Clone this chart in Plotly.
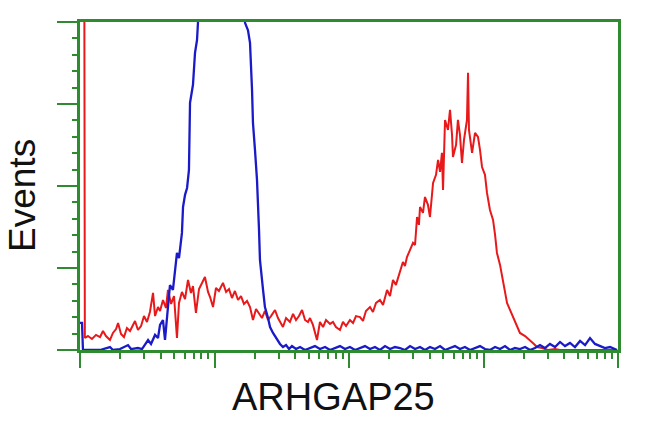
import plotly.graph_objects as go

# Fluorescence intensity positions (log10 decades) and event counts
red_decade = [0.006, 0.029, 0.036, 0.059, 0.089, 0.119, 0.149, 0.171, 0.193, 0.223, 0.245, 0.268,
              0.283, 0.305, 0.327, 0.349, 0.372, 0.394, 0.409, 0.431, 0.454, 0.476, 0.498, 0.520,
              0.543, 0.558, 0.580, 0.595, 0.617, 0.639, 0.654, 0.677, 0.699, 0.721, 0.736, 0.758,
              0.781, 0.803, 0.825, 0.840, 0.862, 0.885, 0.907, 0.929, 0.952, 0.967, 0.989, 1.011,
              1.033, 1.063, 1.086, 1.108, 1.130, 1.152, 1.175, 1.197, 1.219, 1.242, 1.264, 1.286,
              1.309, 1.331, 1.353, 1.375, 1.398, 1.420, 1.450, 1.472, 1.494, 1.509, 1.532, 1.561,
              1.584, 1.606, 1.628, 1.651, 1.673, 1.695, 1.710, 1.732, 1.762, 1.784, 1.807, 1.829,
              1.859, 1.881, 1.903, 1.933, 1.955, 1.978, 2.007, 2.030, 2.052, 2.082, 2.104, 2.126,
              2.156, 2.178, 2.201, 2.230, 2.253, 2.283, 2.305, 2.327, 2.349, 2.379, 2.401, 2.416,
              2.431, 2.454, 2.476, 2.491, 2.506, 2.520, 2.528, 2.550, 2.565, 2.587, 2.602, 2.625,
              2.647, 2.662, 2.677, 2.691, 2.699, 2.714, 2.736, 2.751, 2.766, 2.773, 2.796, 2.810,
              2.825, 2.840, 2.855, 2.877, 2.885, 2.892, 2.915, 2.937, 2.959, 2.974, 2.989, 3.011,
              3.026, 3.048, 3.071, 3.086, 3.100, 3.123, 3.145, 3.160, 3.175, 3.197, 3.219, 3.249,
              3.271, 3.309, 3.346, 3.375, 3.398, 3.435, 3.480, 3.532, 3.569, 3.643, 3.718, 3.866,
              3.993]
red_counts = [400, 400, 7.3, 8.5, 6.7, 9.2, 7.9, 11.6, 8.5, 6.1, 10.4, 12.8,
              16.5, 9.8, 7.9, 13.4, 11.6, 15.3, 17.7, 12.2, 14.6, 20.7, 17.1, 23.2,
              34.8, 20.7, 26.2, 23.8, 30.5, 25.6, 36.6, 28.1, 32.9, 7.3, 28.7, 35.4,
              31.1, 42.7, 34.8, 39.0, 22.6, 37.2, 40.9, 44.5, 35.4, 32.3, 26.2, 37.8,
              36.0, 40.9, 35.4, 37.2, 31.7, 36.0, 30.5, 32.9, 28.1, 29.9, 26.2, 18.3,
              25.0, 22.6, 19.5, 23.8, 18.3, 20.7, 24.4, 19.5, 16.5, 14.0, 19.5, 17.1,
              22.0, 18.3, 20.7, 24.4, 18.3, 17.1, 19.5, 15.3, 6.1, 17.1, 14.0, 18.3,
              15.9, 17.1, 14.0, 12.2, 17.1, 14.6, 18.3, 16.5, 20.7, 20.1, 17.7, 23.8,
              26.2, 23.2, 28.7, 30.5, 27.5, 36.6, 32.9, 42.7, 39.7, 48.8, 53.7, 51.2,
              56.7, 61.0, 65.3, 64.0, 81.1, 76.3, 87.2, 83.6, 93.3, 88.5, 81.1, 101.9,
              106.8, 115.9, 108.6, 120.2, 97.6, 140.3, 134.2, 146.4, 131.2, 117.7, 125.1, 140.3,
              131.2, 114.1, 128.1, 140.3, 169.0, 134.2, 120.2, 132.4, 129.9, 122.0, 111.6, 106.8,
              95.8, 85.4, 79.3, 70.2, 59.2, 51.9, 42.7, 36.6, 28.7, 24.4, 20.1, 15.3,
              10.4, 8.5, 6.1, 3.7, 1.8, 1.2, 0.0, 0.6, 0.0, 0.0, 0.0, 0.0,
              0.0]

blue_decade = [0.000, 0.015, 0.022, 0.149, 0.223, 0.245, 0.297, 0.357, 0.379, 0.431, 0.461, 0.483,
               0.506, 0.528, 0.558, 0.580, 0.595, 0.617, 0.632, 0.654, 0.669, 0.691, 0.706, 0.721,
               0.736, 0.758, 0.766, 0.781, 0.796, 0.810, 0.818, 0.840, 0.855, 0.870, 0.877, 0.892,
               0.929, 0.967, 1.004, 1.041, 1.078, 1.115, 1.152, 1.190, 1.219, 1.227, 1.249, 1.264,
               1.279, 1.286, 1.301, 1.316, 1.331, 1.338, 1.361, 1.375, 1.398, 1.413, 1.435, 1.465,
               1.487, 1.509, 1.532, 1.554, 1.576, 1.606, 1.636, 1.673, 1.710, 1.747, 1.784, 1.822,
               1.859, 1.896, 1.933, 1.970, 2.007, 2.045, 2.082, 2.119, 2.156, 2.193, 2.230, 2.268,
               2.305, 2.342, 2.379, 2.416, 2.454, 2.491, 2.528, 2.565, 2.602, 2.639, 2.677, 2.714,
               2.751, 2.788, 2.825, 2.862, 2.900, 2.937, 2.974, 3.011, 3.048, 3.086, 3.123, 3.160,
               3.197, 3.234, 3.271, 3.309, 3.346, 3.383, 3.420, 3.457, 3.494, 3.532, 3.569, 3.606,
               3.643, 3.680, 3.718, 3.755, 3.792, 3.829, 3.866, 3.903, 3.941, 3.978, 3.993]
blue_counts = [16.5, 16.5, 0.0, 0.0, 1.8, 0.0, 0.6, 3.0, 0.6, 1.2, 0.6, 3.0,
               6.1, 3.7, 9.2, 7.3, 15.3, 18.3, 6.1, 26.2, 39.6, 36.6, 48.8, 59.2,
               56.0, 71.4, 87.2, 94.6, 98.8, 109.8, 150.7, 161.7, 181.2, 189.0, 199.5, 230.0,
               270.0, 300.0, 310.0, 300.0, 290.0, 280.0, 260.0, 235.0, 210.0, 199.5, 195.0, 187.3,
               158.6, 138.5, 122.0, 103.7, 73.2, 54.9, 36.6, 26.2, 19.5, 14.0, 10.4, 6.1,
               3.7, 1.8, 3.0, 0.6, 2.4, 0.6, 1.8, 0.0, 1.2, 2.4, 0.6, 1.8,
               0.0, 1.2, 2.4, 0.6, 1.8, 0.0, 1.2, 2.4, 0.6, 1.8, 0.0, 2.4,
               0.6, 1.8, 1.2, 0.0, 2.4, 0.6, 1.8, 0.0, 1.8, 0.6, 2.4, 0.0,
               1.2, 2.4, 0.6, 1.8, 0.0, 1.2, 2.4, 0.6, 0.0, 1.8, 0.6, 2.4,
               0.0, 1.2, 0.6, 1.8, 0.0, 1.2, 3.0, 1.2, 3.7, 1.8, 4.9, 2.4,
               4.3, 1.8, 5.5, 3.0, 7.3, 3.7, 2.4, 1.2, 1.8, 0.6, 0.0]

major_x_ticks = [1, 10, 100, 1000, 10000]
minor_x_ticks = [m * 10 ** k for k in range(4) for m in range(2, 10)]

GREEN = "#2f8b2f"
FONT = "Liberation Sans, Arial, sans-serif"

fig = go.Figure()
fig.add_trace(go.Scatter(
    x=[10 ** d for d in red_decade], y=red_counts, mode="lines",
    line=dict(color="#e8191b", width=2), showlegend=False, hoverinfo="skip"))
fig.add_trace(go.Scatter(
    x=[10 ** d for d in blue_decade], y=blue_counts, mode="lines",
    line=dict(color="#1a1ac8", width=2.3), showlegend=False, hoverinfo="skip"))

fig.update_xaxes(
    type="log", range=[0, 4], showgrid=False, zeroline=False,
    showline=True, linecolor=GREEN, linewidth=3, mirror=True,
    tickmode="array", tickvals=major_x_ticks, showticklabels=False,
    ticks="outside", ticklen=15, tickwidth=2, tickcolor=GREEN,
    minor=dict(tickmode="array", tickvals=minor_x_ticks, ticks="outside",
               ticklen=6, tickwidth=2, tickcolor=GREEN, showgrid=False),
    layer="below traces")
fig.update_yaxes(
    range=[0, 200], showgrid=False, zeroline=False,
    showline=True, linecolor=GREEN, linewidth=3, mirror=True,
    tickmode="linear", tick0=0, dtick=50, showticklabels=False,
    ticks="outside", ticklen=20, tickwidth=2, tickcolor=GREEN,
    minor=dict(dtick=10, ticks="outside", ticklen=5, tickwidth=2,
               tickcolor=GREEN, showgrid=False),
    layer="below traces")

fig.add_annotation(text="ARHGAP25", xref="paper", yref="paper",
                   x=0.472, y=-0.1433, xanchor="center", yanchor="middle",
                   showarrow=False, font=dict(family=FONT, size=38, color="#111111"))
fig.add_annotation(text="Events", xref="paper", yref="paper",
                   x=-0.106, y=0.4726, xanchor="center", yanchor="middle",
                   textangle=-90, showarrow=False,
                   font=dict(family=FONT, size=37, color="#111111"))

fig.update_layout(
    width=650, height=432,
    margin=dict(l=80, r=32, t=22, b=82),
    plot_bgcolor="white", paper_bgcolor="white",
)

# remove the browser's default 8px page margin so the figure fills the window exactly
fig.write_html("out.html",
               config={"displayModeBar": False},
               post_script="document.body.style.margin='0';document.body.style.overflow='hidden';")
